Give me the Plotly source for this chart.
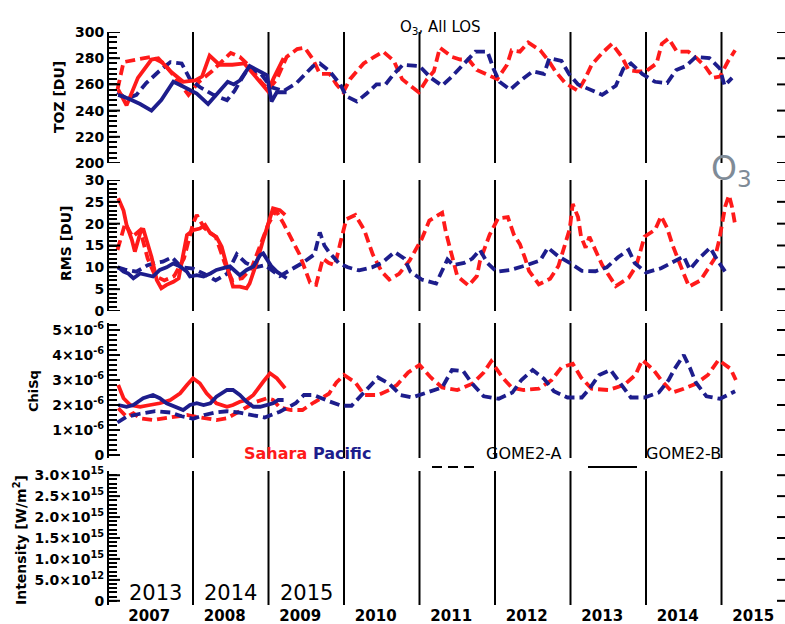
import plotly.graph_objects as go

# ---------------- data (decimal-year position, value) ----------------
# GOME2-A (dashed), 2007 - 2015
SAHARA_A_TOZ = [(2007.00,256),(2007.08,277),(2007.25,279),(2007.45,281),(2007.62,276),(2007.80,262),(2007.94,252),(2008.08,262),(2008.25,270),(2008.50,284),(2008.62,281),(2008.75,274),(2008.90,262),(2009.00,256),(2009.11,264),(2009.24,281),(2009.38,287),(2009.48,288),(2009.59,279),(2009.68,268),(2009.81,268),(2009.90,260),(2009.99,254),(2010.08,264),(2010.26,276),(2010.40,281),(2010.52,285),(2010.66,278),(2010.77,264),(2010.90,258),(2010.99,254),(2011.10,264),(2011.19,270),(2011.27,288),(2011.43,281),(2011.54,279),(2011.65,279),(2011.76,271),(2011.94,266),(2012.03,264),(2012.16,275),(2012.22,286),(2012.33,285),(2012.44,292),(2012.60,286),(2012.71,278),(2012.80,270),(2012.93,261),(2013.10,255),(2013.19,264),(2013.28,275),(2013.42,284),(2013.55,291),(2013.68,281),(2013.77,271),(2013.88,270),(2014.00,270),(2014.14,276),(2014.21,291),(2014.30,295),(2014.41,285),(2014.56,285),(2014.67,280),(2014.78,274),(2014.89,265),(2014.98,266),(2015.09,278),(2015.18,286)]
PACIFIC_A_TOZ = [(2007.00,254),(2007.12,249),(2007.25,252),(2007.38,261),(2007.55,270),(2007.70,277),(2007.85,276),(2007.96,264),(2008.09,258),(2008.27,252),(2008.45,248),(2008.55,255),(2008.62,262),(2008.74,273),(2008.90,268),(2009.03,258),(2009.20,255),(2009.37,261),(2009.59,274),(2009.68,276),(2009.81,270),(2009.95,260),(2010.03,251),(2010.17,247),(2010.30,253),(2010.43,260),(2010.55,260),(2010.66,268),(2010.78,275),(2011.00,274),(2011.15,265),(2011.30,259),(2011.43,266),(2011.60,276),(2011.74,285),(2011.90,285),(2011.98,272),(2012.06,262),(2012.20,256),(2012.34,263),(2012.50,270),(2012.65,268),(2012.72,280),(2012.88,278),(2012.98,268),(2013.10,260),(2013.27,256),(2013.42,252),(2013.60,259),(2013.70,272),(2013.80,276),(2013.95,268),(2014.12,262),(2014.28,261),(2014.40,271),(2014.53,274),(2014.66,281),(2014.84,280),(2014.98,272),(2015.04,259),(2015.14,265)]
SAHARA_A_RMS = [(2007.00,14),(2007.10,20),(2007.20,17),(2007.30,18.5),(2007.40,12),(2007.50,8),(2007.62,7),(2007.75,8),(2007.88,12),(2008.00,20),(2008.05,22),(2008.15,19),(2008.30,17),(2008.42,11),(2008.52,7),(2008.65,7.5),(2008.78,10),(2008.90,15.5),(2009.00,20),(2009.10,23),(2009.20,20),(2009.41,13),(2009.55,6.5),(2009.63,6),(2009.72,12),(2009.80,11),(2009.88,10.5),(2009.95,15.5),(2010.03,21),(2010.15,22),(2010.27,18.5),(2010.38,13),(2010.50,9),(2010.60,7.2),(2010.73,8.5),(2010.87,11.6),(2010.95,14),(2011.03,16.5),(2011.13,20.7),(2011.25,22),(2011.30,22.5),(2011.35,18),(2011.40,14.5),(2011.50,8),(2011.65,5.8),(2011.76,8),(2011.80,11.4),(2011.93,17.5),(2012.04,21.2),(2012.17,21.5),(2012.25,17.5),(2012.33,15.3),(2012.40,12),(2012.45,9.2),(2012.58,6.1),(2012.73,7.4),(2012.84,10.3),(2012.90,14),(2012.99,18.8),(2013.03,24.5),(2013.10,21.5),(2013.14,17),(2013.20,14.5),(2013.25,17),(2013.35,13.3),(2013.42,10.5),(2013.60,5.7),(2013.77,7.6),(2013.87,10.3),(2013.98,17),(2014.12,18.6),(2014.20,21.7),(2014.28,19),(2014.35,15.2),(2014.50,8.5),(2014.57,5.6),(2014.72,7),(2014.82,9.6),(2014.91,12),(2014.97,16.3),(2015.05,24),(2015.10,26.5),(2015.14,23.8),(2015.18,19.8)]
PACIFIC_A_RMS = [(2007.00,10),(2007.10,9.5),(2007.25,9),(2007.40,10.5),(2007.50,11),(2007.60,11.3),(2007.72,12.3),(2007.85,10),(2008.00,9.7),(2008.15,8.5),(2008.30,7),(2008.45,8.5),(2008.58,13),(2008.70,11),(2008.83,10),(2008.95,10.5),(2009.15,8),(2009.30,9.5),(2009.45,11),(2009.61,13),(2009.68,18),(2009.74,15),(2009.80,13.5),(2009.93,11),(2010.05,10),(2010.20,9.3),(2010.37,10),(2010.50,11),(2010.67,13.5),(2010.80,12),(2010.88,9),(2011.03,7.2),(2011.22,6.3),(2011.37,11.8),(2011.45,10.5),(2011.59,11),(2011.70,12),(2011.80,14),(2011.90,11),(2012.02,9),(2012.20,9.4),(2012.40,10.4),(2012.60,11.6),(2012.70,14.5),(2012.84,12.5),(2012.99,11),(2013.15,9.2),(2013.33,9.1),(2013.48,10),(2013.63,12.3),(2013.77,14),(2013.85,11),(2014.00,8.8),(2014.20,9.8),(2014.35,11.2),(2014.50,12.5),(2014.58,9.5),(2014.70,12),(2014.85,14.5),(2014.95,11.5),(2015.07,8.5)]
# ChiSq in units of 1e-6
SAHARA_A_CHI = [(2007.01,1.87),(2007.12,1.53),(2007.21,1.67),(2007.30,1.47),(2007.47,1.40),(2007.65,1.47),(2007.83,1.53),(2007.92,1.60),(2008.00,1.55),(2008.18,1.47),(2008.31,1.40),(2008.45,1.47),(2008.53,1.60),(2008.62,1.73),(2008.73,1.93),(2008.84,2.13),(2008.98,2.27),(2009.06,2.20),(2009.15,1.90),(2009.30,1.80),(2009.45,1.80),(2009.60,2.10),(2009.80,2.45),(2009.90,2.90),(2010.00,3.20),(2010.15,2.90),(2010.27,2.40),(2010.45,2.40),(2010.60,2.60),(2010.70,2.80),(2010.85,3.30),(2011.00,3.60),(2011.15,3.10),(2011.30,2.70),(2011.50,2.60),(2011.70,2.85),(2011.85,3.30),(2011.95,3.75),(2012.10,3.10),(2012.22,2.70),(2012.38,2.60),(2012.58,2.65),(2012.75,3.00),(2012.88,3.50),(2013.03,3.65),(2013.14,3.10),(2013.28,2.65),(2013.50,2.60),(2013.71,2.80),(2013.86,3.20),(2013.95,3.80),(2014.10,3.40),(2014.20,3.00),(2014.35,2.50),(2014.50,2.65),(2014.66,2.85),(2014.82,3.20),(2014.96,3.80),(2015.12,3.45),(2015.19,3.00)]
PACIFIC_A_CHI = [(2007.00,1.30),(2007.12,1.53),(2007.30,1.65),(2007.50,1.75),(2007.70,1.70),(2007.85,1.55),(2008.00,1.45),(2008.15,1.60),(2008.30,1.70),(2008.45,1.75),(2008.60,1.70),(2008.80,1.60),(2008.95,1.50),(2009.15,1.73),(2009.36,2.07),(2009.47,2.40),(2009.60,2.40),(2009.80,2.15),(2009.97,1.97),(2010.10,1.97),(2010.27,2.50),(2010.45,3.10),(2010.60,2.85),(2010.75,2.40),(2010.90,2.30),(2011.10,2.50),(2011.30,2.70),(2011.43,3.40),(2011.58,3.35),(2011.70,2.85),(2011.85,2.35),(2012.05,2.25),(2012.23,2.50),(2012.35,3.00),(2012.50,3.40),(2012.65,3.05),(2012.78,2.55),(2012.96,2.30),(2013.15,2.30),(2013.25,2.65),(2013.38,3.20),(2013.53,3.40),(2013.67,2.80),(2013.80,2.30),(2013.98,2.30),(2014.17,2.50),(2014.30,3.00),(2014.38,3.45),(2014.50,4.00),(2014.58,3.50),(2014.66,2.90),(2014.80,2.35),(2014.98,2.25),(2015.18,2.55)]

# GOME2-B (solid), 2013 - 2015, drawn in the 2007 - 2009 slots
SAHARA_B_TOZ = [(2007.01,256),(2007.12,244),(2007.27,265),(2007.45,279),(2007.54,280),(2007.70,270),(2007.87,262),(2008.03,263),(2008.12,266),(2008.22,282),(2008.35,275),(2008.52,275),(2008.68,276),(2008.87,263),(2008.99,255),(2009.07,265),(2009.20,280)]
PACIFIC_B_TOZ = [(2007.01,252),(2007.15,249),(2007.30,245),(2007.45,240),(2007.58,248),(2007.74,262),(2007.85,259),(2008.05,253),(2008.20,245),(2008.33,253),(2008.46,262),(2008.54,260),(2008.62,263),(2008.75,274),(2008.88,270),(2008.98,267),(2009.04,247),(2009.11,254),(2009.24,254)]
SAHARA_B_RMS = [(2007.01,25.8),(2007.08,23),(2007.12,19.7),(2007.19,16.3),(2007.23,13.6),(2007.30,17.8),(2007.34,18.9),(2007.45,12.4),(2007.52,7.1),(2007.58,5.2),(2007.65,6),(2007.74,6.7),(2007.81,7.5),(2007.92,17.4),(2008.00,18.5),(2008.09,18.9),(2008.16,19.7),(2008.23,17.8),(2008.31,17),(2008.38,14.7),(2008.45,10.2),(2008.53,5.6),(2008.62,5.6),(2008.71,5.2),(2008.75,6.3),(2008.84,10.9),(2008.93,16.3),(2009.00,20.1),(2009.06,23.5),(2009.15,23.1),(2009.22,22)]
PACIFIC_B_RMS = [(2007.01,10),(2007.08,9),(2007.14,8.6),(2007.21,7.5),(2007.30,8.6),(2007.39,8.2),(2007.47,7.9),(2007.56,9.4),(2007.65,10),(2007.74,10.9),(2007.83,10.2),(2007.92,9),(2007.96,7.9),(2008.05,8.2),(2008.14,7.9),(2008.23,8.6),(2008.31,9.4),(2008.40,9.8),(2008.49,10.2),(2008.62,8.2),(2008.71,9.4),(2008.80,10.2),(2008.89,12.8),(2008.93,13.2),(2008.98,12),(2009.04,10.2),(2009.11,9),(2009.20,7.9),(2009.24,7.5)]
SAHARA_B_CHI = [(2007.01,2.80),(2007.08,2.27),(2007.17,2.00),(2007.30,1.93),(2007.43,2.00),(2007.56,2.07),(2007.70,2.20),(2007.83,2.47),(2007.92,2.80),(2008.00,3.07),(2008.09,2.87),(2008.18,2.47),(2008.31,2.07),(2008.45,1.93),(2008.53,2.00),(2008.62,2.13),(2008.71,2.20),(2008.80,2.40),(2008.93,2.93),(2009.02,3.27),(2009.11,3.07),(2009.17,2.87),(2009.22,2.67)]
PACIFIC_B_CHI = [(2007.01,2.00),(2007.12,1.93),(2007.21,2.00),(2007.34,2.27),(2007.47,2.40),(2007.56,2.27),(2007.65,2.07),(2007.78,1.93),(2007.87,1.80),(2007.96,2.00),(2008.05,2.07),(2008.14,2.00),(2008.23,2.07),(2008.31,2.33),(2008.45,2.60),(2008.53,2.60),(2008.62,2.40),(2008.71,2.13),(2008.80,1.93),(2008.89,1.93),(2008.98,2.00),(2009.06,2.07),(2009.13,2.20),(2009.20,2.20)]

YEARS = [2007, 2008, 2009, 2010, 2011, 2012, 2013, 2014, 2015]
BOUNDARIES = [2008, 2009, 2010, 2011, 2012, 2013, 2014, 2015]
B_YEARS = ["2013", "2014", "2015"]

TOZ_TICKS = [200, 220, 240, 260, 280, 300]
RMS_TICKS = [0, 5, 10, 15, 20, 25, 30]
CHI_TICKS = [0, 1, 2, 3, 4, 5]
CHI_TEXT = ["0"] + [f"{v}×10<sup>-6</sup>" for v in CHI_TICKS[1:]]
INT_TICKS = [0, 0.5, 1.0, 1.5, 2.0, 2.5, 3.0]
INT_TEXT = ["0", "5.0×10<sup>12</sup>", "1.0×10<sup>15</sup>", "1.5×10<sup>15</sup>",
            "2.0×10<sup>15</sup>", "2.5×10<sup>15</sup>", "3.0×10<sup>15</sup>"]
# minor tick steps of the comb-like left axes
MINOR_STEP = [4, 1, 0.2, 0.1]

RED = "#ff1a1a"
BLUE = "#1d1d8c"
FONT = "DejaVu Sans"

# ---------------- figure ----------------
W, H = 785, 624
ML, MR, MT, MB = 109, 0, 32, 19
PW, PH = W - ML - MR, H - MT - MB


def py2p(py):
    return (H - MB - py) / PH


def px2p(px):
    return (px - ML) / PW


X_RANGE = [2007 - 8.5 / 75.5, 2007 + (W - 117.5) / 75.5]

fig = go.Figure()

series = [
    (1, SAHARA_A_TOZ, RED, True), (1, PACIFIC_A_TOZ, BLUE, True),
    (1, SAHARA_B_TOZ, RED, False), (1, PACIFIC_B_TOZ, BLUE, False),
    (2, SAHARA_A_RMS, RED, True), (2, PACIFIC_A_RMS, BLUE, True),
    (2, SAHARA_B_RMS, RED, False), (2, PACIFIC_B_RMS, BLUE, False),
    (3, SAHARA_A_CHI, RED, True), (3, PACIFIC_A_CHI, BLUE, True),
    (3, SAHARA_B_CHI, RED, False), (3, PACIFIC_B_CHI, BLUE, False),
]
for row, data, col, dashed in series:
    t, v = zip(*data)
    sfx = "" if row == 1 else str(row)
    fig.add_trace(go.Scatter(
        x=list(t), y=list(v), mode="lines", xaxis="x" + sfx, yaxis="y" + sfx,
        line=dict(color=col, width=3.8, dash="10px,5px" if dashed else "solid"),
        showlegend=False, hoverinfo="skip"))

domains = [
    [py2p(163), py2p(32)],
    [py2p(311), py2p(180)],
    [py2p(458), py2p(323)],
    [py2p(605), py2p(471)],
]
yranges = [[200, 300], [0, 30], [-0.12, 5.28], [-0.1, 3.1]]
ytickvals = [TOZ_TICKS, RMS_TICKS, CHI_TICKS, INT_TICKS]
yticktext = [[str(v) for v in TOZ_TICKS], [str(v) for v in RMS_TICKS], CHI_TEXT, INT_TEXT]


def comb_ticks(i):
    """All tick positions of the comb axis; labels only on the major ones."""
    lo, hi = yranges[i]
    step = MINOR_STEP[i]
    vals, texts = [], []
    for k in range(int(round(lo / step)), int(round(hi / step)) + 1):
        v = round(k * step, 6)
        if v < lo or v > hi:
            continue
        vals.append(v)
        lab = " "
        for mv, mt in zip(ytickvals[i], yticktext[i]):
            if abs(mv - v) < 1e-6:
                lab = mt
        texts.append(lab)
    return vals, texts


tickfont = dict(family=FONT, size=14, color="black", weight="bold")
layout = dict(
    width=W, height=H, margin=dict(l=ML, r=MR, t=MT, b=MB),
    paper_bgcolor="white", plot_bgcolor="white", showlegend=False,
)
for i in range(4):
    sfx = "" if i == 0 else str(i + 1)
    layout["xaxis" + sfx] = dict(
        domain=[0, 1], range=X_RANGE, anchor="y" + sfx,
        showgrid=False, zeroline=False, showline=False, ticks="",
        showticklabels=(i == 3),
        tickmode="array", tickvals=[y + 0.42 for y in YEARS], ticktext=[str(y) for y in YEARS],
        tickfont=dict(family=FONT, size=15, color="black", weight="bold"),
        automargin=False,
    )
    cv, ct = comb_ticks(i)
    layout["yaxis" + sfx] = dict(
        domain=domains[i], range=yranges[i], anchor="x" + sfx,
        showgrid=False, zeroline=False, showline=True, linecolor="black", linewidth=2,
        ticks="inside", ticklen=8, tickwidth=1.8, tickcolor="black",
        tickmode="array", tickvals=cv, ticktext=ct,
        tickfont=tickfont, automargin=False,
    )
fig.update_layout(**layout)

shapes = []
for i in range(4):
    sfx = "" if i == 0 else str(i + 1)
    for b in BOUNDARIES:
        shapes.append(dict(type="line", xref="x" + sfx, yref="y" + sfx + " domain",
                           x0=b, x1=b, y0=0, y1=1, line=dict(color="black", width=2), layer="below"))
    for v in ytickvals[i]:
        # right-hand major ticks
        shapes.append(dict(type="line", xref="x" + sfx + " domain", yref="y" + sfx,
                           x0=1 - 8 / PW, x1=1, y0=v, y1=v, line=dict(color="black", width=2)))
        # longer left major ticks
        shapes.append(dict(type="line", xref="x" + sfx + " domain", yref="y" + sfx,
                           x0=0, x1=11 / PW, y0=v, y1=v, line=dict(color="black", width=2)))
# legend line samples
shapes.append(dict(type="line", xref="paper", yref="paper", x0=px2p(432), x1=px2p(478),
                   y0=py2p(467), y1=py2p(467), line=dict(color="black", width=2, dash="10px,6px")))
shapes.append(dict(type="line", xref="paper", yref="paper", x0=px2p(588), x1=px2p(637),
                   y0=py2p(467), y1=py2p(467), line=dict(color="black", width=2)))
fig.update_layout(shapes=shapes)

ann = []
ann.append(dict(text="O<sub>3</sub>, All LOS", xref="paper", yref="paper", x=px2p(440), y=py2p(16),
                showarrow=False, font=dict(family=FONT, size=15, color="black")))
ytitles = [("TOZ [DU]", 59, 97, 14), ("RMS [DU]", 66, 244, 14), ("ChiSq", 33, 391, 13),
           ("Intensity [W/m<sup>2</sup>]", 20, 540, 14)]
for txt, xp, ypix, fs in ytitles:
    ann.append(dict(text=txt, xref="paper", yref="paper", x=px2p(xp), y=py2p(ypix), textangle=-90,
                    showarrow=False, xanchor="center", yanchor="middle",
                    font=dict(family=FONT, size=fs, color="black", weight="bold")))
ann.append(dict(text="Sahara", xref="paper", yref="paper", x=px2p(242), y=py2p(465), xanchor="left",
                showarrow=False, font=dict(family=FONT, size=16, color=RED, weight="bold")))
ann.append(dict(text="Pacific", xref="paper", yref="paper", x=px2p(311), y=py2p(465), xanchor="left",
                showarrow=False, font=dict(family=FONT, size=16, color=BLUE, weight="bold")))
ann.append(dict(text="GOME2-A", xref="paper", yref="paper", x=px2p(484), y=py2p(465), xanchor="left",
                showarrow=False, font=dict(family=FONT, size=16, color="black")))
ann.append(dict(text="GOME2-B", xref="paper", yref="paper", x=px2p(644), y=py2p(465), xanchor="left",
                showarrow=False, font=dict(family=FONT, size=16, color="black")))
for k, lab in enumerate(B_YEARS):
    ann.append(dict(text=lab, xref="x4", yref="paper", x=YEARS[k] + 0.5, y=py2p(593),
                    showarrow=False, xanchor="center", yanchor="middle",
                    font=dict(family=FONT, size=21, color="black")))
ann.append(dict(text="O<sub>3</sub>", xref="paper", yref="paper", x=px2p(709), y=py2p(170),
                xanchor="left", yanchor="middle", showarrow=False,
                font=dict(family=FONT, size=33, color="#7f8b97")))
fig.update_layout(annotations=ann)

fig.write_html("out.html")
